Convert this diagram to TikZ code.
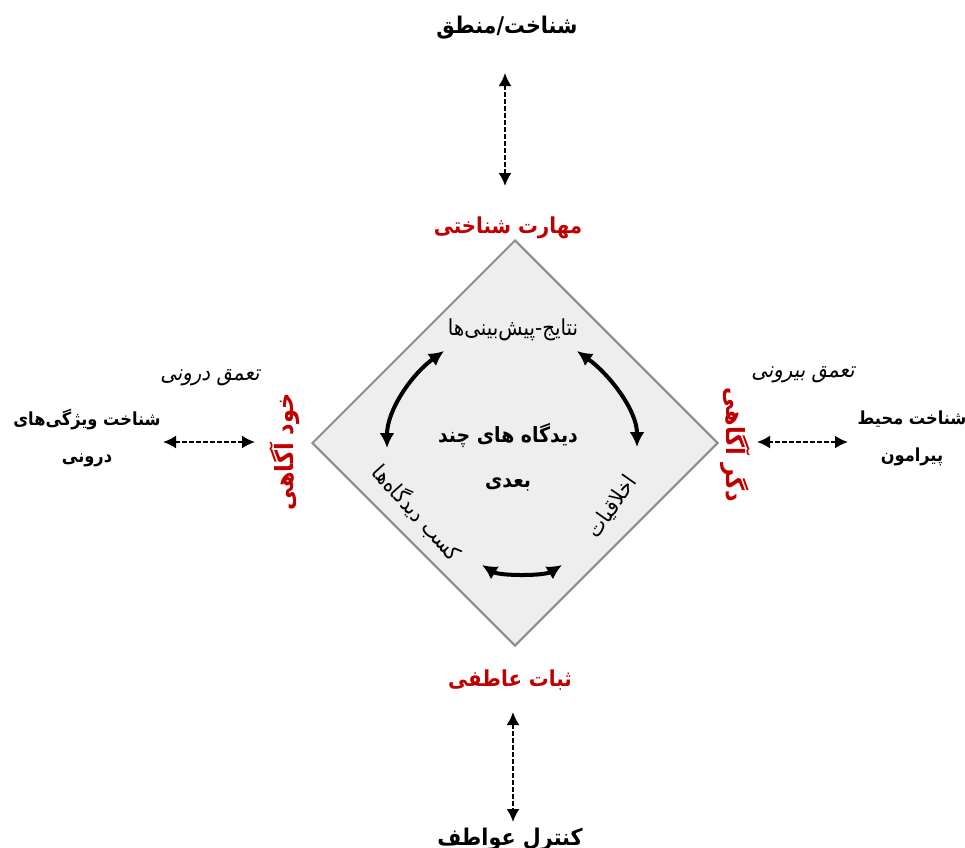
\documentclass[tikz,border=0pt]{standalone}
\usepackage{fontspec}
\newfontfamily\arabicfont[Script=Arabic,FakeStretch=0.9]{DejaVu Sans}
\newfontfamily\arabicslant[Script=Arabic,FakeSlant=0.2,FakeStretch=0.9]{DejaVu Sans}
\TeXXeTstate=1
\usetikzlibrary{positioning}
\usetikzlibrary{shapes.geometric}
\usetikzlibrary{arrows.meta}
\definecolor{skillred}{RGB}{192,0,0}
\definecolor{boxgray}{RGB}{238,238,238}
\definecolor{edgegray}{RGB}{140,140,140}
\tikzset{blacklbl/.style={ % Sets the properties for the outer labels
			font=\arabicfont\bfseries\fontsize{23}{26}\selectfont,
			align=center},
		redlbl/.style={blacklbl, text=skillred, font=\arabicfont\bfseries\fontsize{22}{26}\selectfont},
		sidered/.style={redlbl, font=\arabicfont\bfseries\fontsize{25}{28}\selectfont},
		sidelbl/.style={font=\arabicfont\bfseries\fontsize{18}{37}\selectfont, align=center},
		softlbl/.style={font=\arabicslant\fontsize{22}{24}\selectfont},
		innerlbl/.style={font=\arabicfont\fontsize{22}{24}\selectfont},
		centerlbl/.style={font=\arabicfont\bfseries\fontsize{21}{45}\selectfont, align=center},
		dasharrow/.style={draw, line width=2pt, dash pattern=on 5pt off 2pt,
			{Latex[length=13pt,width=13pt]}-{Latex[length=13pt,width=13pt]}},
		cyclearrow/.style={draw, line width=4pt,
			{Latex[length=15pt,width=15pt]}-{Latex[length=15pt,width=15pt]}}}

\begin{document}
\begin{tikzpicture}[x=1pt,y=-1pt]
			\useasboundingbox (0,0) rectangle (965,847);
			\node [diamond, aspect=1, draw=edgegray, line width=2pt, fill=boxgray,
				minimum width=406pt, minimum height=406pt, inner sep=0pt] (D) at (515,443) {};
			
			\node [blacklbl] (logic) at (507,28) {\beginR شناخت/منطق\endR};
			\node [redlbl] (cog) at (508,228) {\beginR مهارت شناختی\endR};
			\node [redlbl] (emo) at (510,680) {\beginR ثبات عاطفی\endR};
			\node [blacklbl] (ctrl) at (510,840) {\beginR کنترل عواطف\endR};
			\node [sidered, rotate=90] (self) at (285,452) {\beginR خود آگاهی\endR};
			\node [sidered, rotate=-90] (other) at (735,445) {\beginR دگر آگاهی\endR};
			\node [sidelbl] (inside) at (87,438) {\beginR شناخت ویژگی^^^^200cهای\endR \\ \beginR درونی\endR};
			\node [sidelbl] (outside) at (912,438) {\beginR شناخت محیط\endR \\ \beginR پیرامون\endR};
			\node [softlbl] (deepin) at (210,378) {\beginR تعمق درونی\endR};
			\node [softlbl] (deepout) at (803,375) {\beginR تعمق بیرونی\endR};
			
			\node [innerlbl] (res) at (513,330) {\beginR نتایج-پیش^^^^200cبینی^^^^200cها\endR};
			\node [innerlbl, rotate=55] (eth) at (612,507) {\beginR اخلاقیات\endR};
			\node [innerlbl, rotate=-48] (gain) at (417,513) {\beginR کسب دیدگاه^^^^200cها\endR};
			\node [centerlbl] (multi) at (508,457) {\beginR دیدگاه های چند\endR \\ \beginR بعدی\endR};
			
			\coordinate (c1) at (444,351);
			\coordinate (c2) at (387,448);
			\coordinate (c3) at (577,351);
			\coordinate (c4) at (637,447);
			\coordinate (c5) at (482,565);
			\coordinate (c6) at (562,565);
			
			\draw [dasharrow, shorten <=45pt, shorten >=42pt] ([xshift=-2pt]logic.center) -- ([xshift=-3pt]cog.center);
			\draw [dasharrow, shorten <=32pt, shorten >=18pt] ([xshift=3pt]emo.center) -- ([xshift=3pt]ctrl.center);
			\draw [dasharrow, shorten <=76pt, shorten >=30pt] ([yshift=-4pt]inside.center) -- ([yshift=-4pt]inside.center -| self.center);
			\draw [dasharrow, shorten <=64pt, shorten >=22pt] ([yshift=-4pt]outside.center) -- ([yshift=-4pt]outside.center -| other.center);
			
			\draw [cyclearrow] (c1) .. controls (412,374) and (387,410) .. (c2);
			\draw [cyclearrow] (c3) .. controls (609,374) and (637,410) .. (c4);
			\draw [cyclearrow] (c5) .. controls (500,576) and (544,576) .. (c6);
		\end{tikzpicture}
\end{document}
